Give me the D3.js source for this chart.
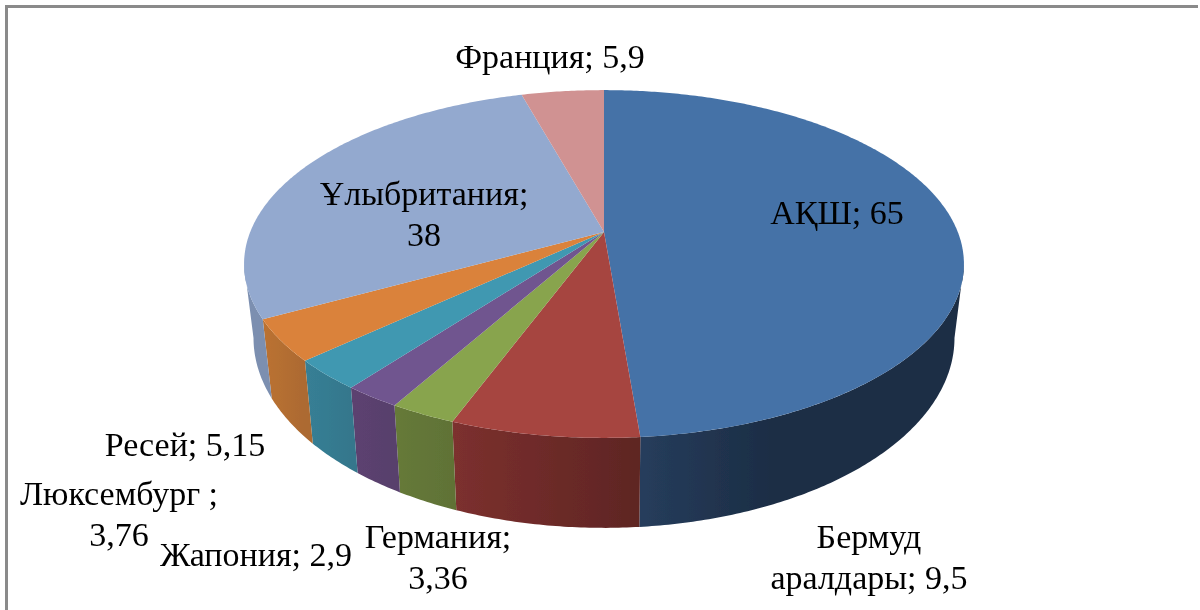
<!DOCTYPE html>
<html><head><meta charset="utf-8">
<script src="https://cdnjs.cloudflare.com/ajax/libs/d3/7.8.5/d3.min.js"></script>
<style>html,body{margin:0;padding:0;background:#fff;overflow:hidden}svg{display:block}
text{font-family:"Liberation Serif","Times New Roman",serif;fill:#000}</style>
</head><body><svg id="c" width="1200" height="610"></svg>
<script>
const categories = ["АҚШ","Бермуд аралдары","Германия","Жапония","Люксембург","Ресей","Ұлыбритания","Франция"];
const values = [65,9.5,3.36,2.9,3.76,5.15,38,5.9];
const valueLabels = ["65","9,5","3,36","2,9","3,76","5,15","38","5,9"];
const topColors = ["#4572a7","#a64441","#88a44d","#70548f","#3f98b1","#da823a","#93a9cf","#d09292"];
const wallFrom = ["#263d5c","#7c302e","#667a39","#5c4270","#377f95","#bb7233","#7b8fb0","#b07b7b"];
const wallTo   = ["#1c2d45","#5e2523","#607236","#58406c","#34778c","#ac6a30","#7f93b5","#a87575"];

const svg = d3.select("#c");
const defs = svg.append("defs");
defs.append("filter").attr("id","soft").append("feGaussianBlur").attr("stdDeviation",0.55);
const root = svg.append("g").attr("filter","url(#soft)");

// frame
root.append("path").attr("d","M6.5 610V6.5H1198").attr("fill","none").attr("stroke","#8a8a8a").attr("stroke-width",3);

const pie = d3.pie().sort(null).value(d=>d);
const arcs = pie(values);

// perspective projection of the pie disc
const cx = 604, k = 0.184;
const topPlane = {xs:353.8, ay:232, ys:168};
const botPlane = {xs:344.5, ay:303, ys:183.5};
function proj(a,pl){
  const u=Math.sin(a), v=-Math.cos(a), w=1-k*v;
  return [cx+pl.xs*u/w, pl.ay+pl.ys*v/w];
}
function samples(s,e){
  const n=Math.max(2,Math.ceil((e-s)/0.01));
  return d3.range(n+1).map(i=>s+(e-s)*i/n);
}
const line=d3.line().curve(d3.curveLinear);

// walls: only the front part, bounded by the silhouette tangent
const tanR=Math.acos(-k), tanL=2*Math.PI-tanR;
arcs.forEach((d,i)=>{
  const s=Math.max(d.startAngle,tanR), e=Math.min(d.endAngle,tanL);
  if(e<=s) return;
  const as=samples(s,e);
  const e0=proj(d.endAngle,topPlane)[0], s0=proj(d.startAngle,topPlane)[0];
  const x1=i===0?e0:Math.min(e0,s0), x2=i===0?e0+130:Math.max(e0,s0);
  const g=defs.append("linearGradient").attr("id","w"+i).attr("gradientUnits","userSpaceOnUse")
    .attr("x1",x1).attr("x2",x2).attr("y1",0).attr("y2",0);
  g.append("stop").attr("offset",0).attr("stop-color",wallFrom[i]);
  g.append("stop").attr("offset",1).attr("stop-color",wallTo[i]);
  const pts=as.map(a=>proj(a,topPlane)).concat(as.slice().reverse().map(a=>proj(a,botPlane)));
  root.append("path").attr("d",line(pts)+"Z").attr("fill",`url(#w${i})`);
});
// top face
arcs.forEach((d,i)=>{
  const pts=[[cx,topPlane.ay]].concat(samples(d.startAngle,d.endAngle).map(a=>proj(a,topPlane)));
  root.append("path").attr("d",line(pts)+"Z").attr("fill",topColors[i]);
});

// labels
const lines=[
 [`${categories[0]}; ${valueLabels[0]}`],
 ["Бермуд",`аралдары; ${valueLabels[1]}`],
 [`${categories[2]};`,valueLabels[2]],
 [`${categories[3]}; ${valueLabels[3]}`],
 [`${categories[4]} ;`,valueLabels[4]],
 [`${categories[5]}; ${valueLabels[5]}`],
 [`${categories[6]};`,valueLabels[6]],
 [`${categories[7]}; ${valueLabels[7]}`]
];
const place=[[837,224],[869,548],[438,548],[256,566],[119,505],[185,456],[424,205],[550,68]];
lines.forEach((ls,i)=>{
  const t=root.append("text").attr("text-anchor","middle").attr("font-size",34);
  ls.forEach((s,j)=>t.append("tspan").attr("x",place[i][0]).attr("y",place[i][1]+j*41).text(s));
});
</script></body></html>
